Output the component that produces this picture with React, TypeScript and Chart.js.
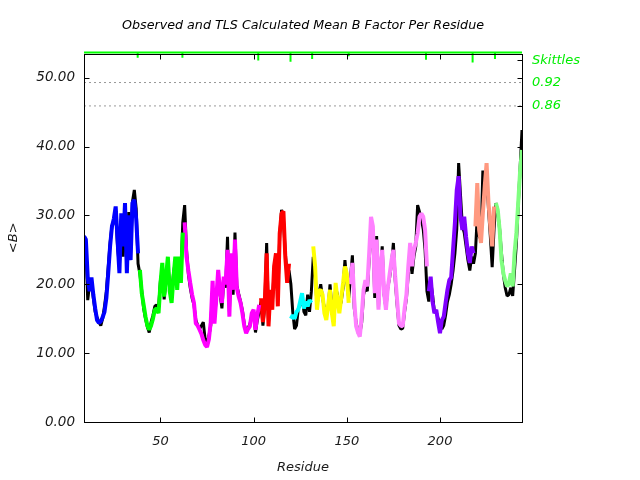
import { useEffect, useRef } from 'react';
import { Chart, registerables } from 'chart.js';

Chart.register(...registerables);

const firstResidue = 9;

// Observed mean B per residue (black), residues 9..244
const observedB = [
  26.5, 25.5, 17.7, 20.0, 20.5, 18.0, 16.0, 15.2, 14.5, 14.0,
  15.0, 16.8, 19.0, 22.5, 26.0, 28.5, 29.0, 30.5, 25.5, 22.5,
  29.5, 24.0, 31.0, 22.5, 30.5, 24.5, 32.0, 33.7, 31.0, 23.0,
  21.5, 19.0, 16.5, 15.0, 13.8, 13.0, 14.5, 15.5, 16.8, 17.0,
  16.5, 20.5, 22.0, 17.8, 20.5, 23.0, 19.5, 18.5, 21.5, 23.5,
  19.5, 23.0, 21.0, 29.0,
  31.5, 25.0, 21.5, 19.5, 18.0, 17.0, 14.8, 14.0, 13.5, 14.0,
  14.5, 12.0, 11.5, 12.5, 14.0, 19.5, 15.0, 18.0, 21.0, 18.5,
  16.5, 20.5, 19.5, 26.9, 16.0, 23.5, 18.5, 27.5, 19.8, 18.6,
  17.5, 16.2, 14.2, 13.2, 13.6, 14.2, 15.4, 16.0, 13.0, 14.8,
  16.0,
  17.5, 14.0, 17.0, 26.0, 14.5, 19.0, 17.0, 22.0, 23.5, 18.0,
  27.0, 30.8, 29.5, 24.5, 21.5, 22.0,
  20.0, 16.0, 13.5, 14.0, 16.5, 17.0, 18.5, 16.0, 15.5, 18.5,
  16.0, 19.0,
  24.0, 21.5, 17.0, 18.5, 20.0, 18.0, 16.5, 15.5, 16.5, 20.0,
  16.5, 14.5, 19.5, 18.5, 16.5, 17.5, 19.5, 23.5, 20.5, 18.0,
  21.0, 24.2, 16.5, 14.5, 13.0, 12.8, 14.5, 18.5, 19.5, 19.0,
  23.5, 28.0, 27.0, 18.0, 27.0, 16.5, 22.0, 25.5, 18.5, 16.5,
  19.5, 21.0, 23.0, 26.0, 20.5, 17.0, 14.0, 13.5, 13.6, 16.0,
  18.0, 21.5, 24.5, 21.5, 24.0, 25.5, 31.5, 30.5, 29.5, 28.0,
  25.0, 19.0,
  17.5, 20.5, 18.5, 16.0, 16.0, 15.0, 14.5, 13.5, 14.0, 15.5,
  17.5, 18.5, 20.0, 22.0, 24.5, 28.0, 37.6, 33.0, 28.5, 27.5,
  25.5, 23.5, 22.0, 24.0, 23.0,
  24.5, 30.0, 27.0, 26.5, 36.5, 33.5, 36.0, 31.0, 27.0, 22.5,
  28.0,
  31.8, 30.5, 28.0, 24.5, 21.5, 19.5, 18.3, 18.5, 19.5, 18.3,
  22.0, 26.0, 31.5, 37.0, 42.4,
];

// TLS calculated mean B per residue (coloured by segment), residues 9..244
const tlsB = [
  27.0, 26.5, 21.0, 19.0, 21.0, 18.5, 16.5, 14.8, 14.4, 14.6,
  15.2, 16.0, 18.0, 21.6, 25.5, 28.4, 29.5, 31.3, 26.5, 21.6,
  30.3, 25.5, 31.8, 21.6, 30.0, 23.5, 31.8, 32.3, 29.5, 24.5,
  22.1, 18.7, 17.0, 15.3, 14.0, 13.4, 14.0, 15.0, 16.3, 16.5,
  15.8, 20.0, 23.1, 18.2, 21.0, 24.0, 19.0, 17.3, 21.0, 24.0,
  19.2, 24.0, 20.2, 27.5,
  29.0, 24.0, 22.0, 20.2, 18.5, 17.3, 14.3, 14.0, 13.4, 12.8,
  11.9, 11.2, 10.9, 12.0, 14.5, 20.5, 14.3, 18.0, 22.1, 19.0,
  17.3, 21.1, 20.0, 25.0, 15.3, 24.5, 19.2, 26.5, 19.5, 18.2,
  17.3, 15.8, 13.9, 12.9, 13.5, 13.9, 15.8, 16.3, 13.4, 15.5,
  17.0,
  18.0, 14.5, 17.3, 24.5, 13.9, 19.2, 16.3, 22.6, 24.5, 16.8,
  27.4, 30.3, 30.6, 24.0, 20.2, 23.0,
  15.0, 15.5, 15.0, 16.0, 16.3, 17.5, 18.7, 16.5, 17.5, 16.8,
  17.7, 17.3,
  25.5, 22.6, 16.3, 19.0, 19.2, 18.5, 15.8, 14.8, 17.0, 19.2,
  15.8, 13.9, 20.2, 17.7, 15.8, 18.0, 20.2, 22.6, 21.5, 17.3,
  20.0, 23.1, 17.7, 13.9, 13.0, 12.4, 15.5, 19.2, 20.6, 19.7,
  24.5, 29.8, 28.4, 18.7, 26.5, 16.3, 22.6, 25.0, 18.7, 16.3,
  19.5, 21.5, 23.5, 25.0, 21.1, 17.7, 14.3, 14.0, 13.9, 16.5,
  18.5, 22.6, 26.0, 22.6, 25.0, 26.0, 27.4, 29.8, 30.3, 29.8,
  27.9, 22.6,
  19.0, 21.1, 17.5, 15.8, 16.3, 14.5, 12.9, 14.8, 15.3, 17.3,
  19.2, 20.6, 21.0, 25.0, 28.9, 33.7, 35.7, 29.8, 27.9, 29.8,
  26.9, 24.5, 23.1, 25.5, 24.5,
  28.4, 34.7, 27.9, 26.0, 30.3, 34.2, 37.6, 32.0, 28.4, 25.5,
  31.3,
  31.8, 30.8, 27.9, 23.5, 21.6, 20.5, 19.7, 20.1, 21.6, 19.7,
  24.5, 27.5, 32.0, 36.5, 39.5,
];

const segmentStarts = [9, 39, 63, 104, 120, 132, 152, 194, 219, 230];
const segmentEnds = [38, 62, 103, 119, 131, 151, 193, 218, 229, 244];
const segmentColors = [
  '#0000ff', '#00ff00', '#ff00ff', '#ff0000', '#00ffff',
  '#ffff00', '#ff80ff', '#8000ff', '#ff9980', '#80ff80',
];

const chartTitle = 'Observed and TLS Calculated Mean B Factor Per Residue';
const xTicks = [50, 100, 150, 200];
const yTicks = [0, 10, 20, 30, 40, 50];
const rightTickValues = [45.9, 49.3, 52.5];
const rightTickLabels = ['0.86', '0.92', 'Skittles'];
const refLineValues = [45.9, 49.3];

const skittleBase = 53.65;
const skittleResidues = [37.8, 61.8, 102.5, 119.8, 131.4, 151.0, 192.5, 217.5, 229.5];
const skittleDips = [52.9, 52.9, 52.5, 52.3, 52.7, 53.1, 52.6, 52.2, 52.7];

const FONT = 'DejaVu Sans';
const GREEN_TEXT = '#00ee00';
const TEXT = '#1a1a1a';

const framePlugin = {
  id: 'frameTicks',
  afterDatasetsDraw(chart: any) {
    const { ctx, chartArea: a, scales } = chart;
    const L = Math.round(a.left) + 0.5;
    const R = Math.round(a.right) + 0.5;
    const T = Math.round(a.top) + 0.5;
    const B = Math.round(a.bottom) + 0.5;
    ctx.save();
    ctx.strokeStyle = '#000';
    ctx.lineWidth = 1;
    ctx.strokeRect(L, T, R - L, B - T);
    ctx.beginPath();
    for (const v of xTicks) {
      const px = Math.round(scales.x.getPixelForValue(v)) + 0.5;
      ctx.moveTo(px, B);
      ctx.lineTo(px, B - 5);
      ctx.moveTo(px, T);
      ctx.lineTo(px, T + 5);
    }
    for (const v of yTicks) {
      const py = Math.round(scales.y.getPixelForValue(v)) + 0.5;
      ctx.moveTo(L, py);
      ctx.lineTo(L + 5, py);
      ctx.moveTo(R, py);
      ctx.lineTo(R - 5, py);
    }
    for (const v of [rightTickValues[0], rightTickValues[2]]) {
      const py = Math.round(scales.y2.getPixelForValue(v)) + 0.5;
      ctx.moveTo(R, py);
      ctx.lineTo(R - 5, py);
    }
    ctx.stroke();
    ctx.restore();
  },
  afterDraw(chart: any) {
    const { ctx, chartArea: a } = chart;
    ctx.save();
    ctx.fillStyle = '#000';
    ctx.font = `italic 12.7px "${FONT}"`;
    ctx.textAlign = 'center';
    ctx.textBaseline = 'middle';
    ctx.fillText(chartTitle, (a.left + a.right) / 2, 26);
    ctx.restore();
  },
};

export default function App() {
  const canvasRef = useRef<HTMLCanvasElement | null>(null);

  useEffect(() => {
    const canvas = canvasRef.current;
    if (!canvas) return;

    const toPoints = (vals: number[], from: number, to: number) => {
      const pts: { x: number; y: number }[] = [];
      for (let r = from; r <= to; r++) {
        pts.push({ x: r, y: vals[r - firstResidue] });
      }
      return pts;
    };

    const lastResidue = firstResidue + observedB.length - 1;

    const segmentDatasets = segmentStarts.map((s, i) => ({
      label: 'TLS segment ' + (i + 1),
      data: toPoints(tlsB, s, segmentEnds[i]),
      borderColor: segmentColors[i],
      borderWidth: 4,
      borderJoinStyle: 'bevel',
      pointRadius: 0,
      tension: 0,
      order: 0,
      yAxisID: 'y',
    }));

    const skittlePoints: { x: number; y: number }[] = [{ x: firstResidue, y: skittleBase }];
    skittleResidues.forEach((r, i) => {
      skittlePoints.push({ x: r, y: skittleBase });
      skittlePoints.push({ x: r, y: skittleDips[i] });
      skittlePoints.push({ x: r, y: skittleBase });
    });
    skittlePoints.push({ x: lastResidue, y: skittleBase });

    const refDatasets = refLineValues.map((v) => ({
      label: 'ref ' + v,
      data: [
        { x: firstResidue, y: v },
        { x: lastResidue, y: v },
      ],
      borderColor: '#999999',
      borderWidth: 1,
      borderDash: [2, 3],
      pointRadius: 0,
      order: 3,
      yAxisID: 'y',
    }));

    const chart = new Chart(canvas, {
      type: 'line',
      data: {
        datasets: [
          ...segmentDatasets,
          {
            label: 'Observed',
            data: toPoints(observedB, firstResidue, lastResidue),
            borderColor: '#000000',
            borderWidth: 3,
            borderJoinStyle: 'bevel',
            pointRadius: 0,
            tension: 0,
            order: 1,
            yAxisID: 'y',
          },
          ...refDatasets,
          {
            label: 'Skittles',
            data: skittlePoints,
            borderColor: '#00ff00',
            borderWidth: 2,
            borderJoinStyle: 'bevel',
            pointRadius: 0,
            order: 2,
            clip: false,
            yAxisID: 'y',
          },
        ],
      },
      options: {
        animation: false,
        responsive: false,
        events: [],
        layout: { padding: { top: 53.6, left: 0, right: 0, bottom: 0 } },
        plugins: {
          legend: { display: false },
          tooltip: { enabled: false },
          title: { display: false },
        },
        scales: {
          x: {
            type: 'linear',
            position: 'bottom',
            min: firstResidue,
            max: lastResidue,
            grid: { display: false, drawTicks: false },
            border: { display: false },
            afterBuildTicks: (axis: any) => {
              axis.ticks = xTicks.map((v) => ({ value: v }));
            },
            afterFit: (scale: any) => {
              scale.height = 58;
            },
            ticks: {
              color: TEXT,
              padding: 12,
              maxRotation: 0,
              autoSkip: false,
              font: { family: FONT, size: 13, style: 'italic' },
              callback: (v: any) => String(v),
            },
            title: {
              display: true,
              text: 'Residue',
              color: TEXT,
              font: { family: FONT, size: 13, style: 'italic' },
              padding: { top: 0, bottom: 5 },
            },
          },
          y: {
            type: 'linear',
            position: 'left',
            min: 0,
            max: 53.5,
            grid: { display: false, drawTicks: false },
            border: { display: false },
            afterBuildTicks: (axis: any) => {
              axis.ticks = yTicks.map((v) => ({ value: v }));
            },
            afterFit: (scale: any) => {
              scale.width = 84;
            },
            ticks: {
              color: TEXT,
              padding: 9,
              autoSkip: false,
              font: { family: FONT, size: 13.5, style: 'italic' },
              callback: (v: any) => Number(v).toFixed(2),
            },
            title: {
              display: true,
              text: '<B>',
              color: TEXT,
              font: { family: FONT, size: 13, style: 'italic' },
              padding: { top: 6, bottom: 0 },
            },
          },
          y2: {
            type: 'linear',
            position: 'right',
            min: 0,
            max: 53.5,
            grid: { display: false, drawTicks: false },
            border: { display: false },
            afterBuildTicks: (axis: any) => {
              axis.ticks = rightTickValues.map((v) => ({ value: v }));
            },
            afterFit: (scale: any) => {
              scale.width = 118;
            },
            ticks: {
              color: GREEN_TEXT,
              padding: 10,
              autoSkip: false,
              font: { family: FONT, size: 13, style: 'italic' },
              callback: (v: any) => {
                const idx = rightTickValues.indexOf(Number(v));
                return idx >= 0 ? rightTickLabels[idx] : '';
              },
            },
          },
        },
      },
      plugins: [framePlugin],
    } as any);

    return () => chart.destroy();
  }, []);

  return (
    <div style={{ position: 'fixed', left: 0, top: 0, width: 640, height: 480, background: '#fff' }}>
      <canvas ref={canvasRef} width={640} height={480} />
    </div>
  );
}
